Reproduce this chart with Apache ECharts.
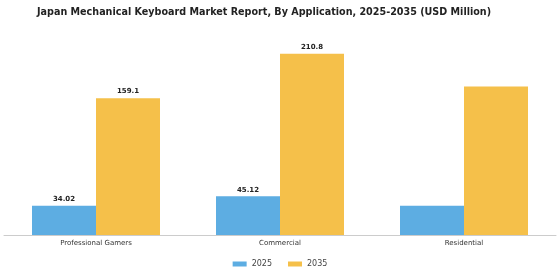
<!DOCTYPE html>
<html><head><meta charset="utf-8">
<script src="https://cdn.jsdelivr.net/npm/echarts@6/dist/echarts.min.js"></script>
<style>html,body{margin:0;padding:0;background:#fff}#c{width:560px;height:280px}</style>
</head><body><div id="c"></div>
<script>
const categories = ['Professional Gamers', 'Commercial', 'Residential'];
const values2025 = [34.02, 45.12, 34.1];
const values2035 = [159.1, 210.8, 172.6];
const labels2025 = ['34.02', '45.12', ''];
const labels2035 = ['159.1', '210.8', ''];
const chart = echarts.init(document.getElementById('c'));
const font = 'DejaVu Sans';
chart.setOption({
  animation: false,
  title: {
    text: 'Japan Mechanical Keyboard Market Report, By Application, 2025-2035 (USD Million)',
    left: 32, top: 2,
    textStyle: { fontFamily: font, fontSize: 9.6, fontWeight: 'bold', color: '#222' }
  },
  legend: {
    bottom: 7, left: 'center', itemWidth: 14, itemHeight: 5, itemGap: 16,
    icon: 'rect',
    textStyle: { fontFamily: font, fontSize: 8, color: '#444' },
    data: ['2025', '2035']
  },
  grid: { left: 4, right: 4, top: 20, bottom: 45, containLabel: false },
  xAxis: {
    type: 'category', data: categories,
    axisLine: { lineStyle: { color: '#ccc' } },
    axisTick: { show: false },
    axisLabel: { fontFamily: font, fontSize: 7, color: '#333', margin: 5 }
  },
  yAxis: { type: 'value', min: 0, max: 250, show: false, splitLine: { show: false } },
  series: [
    {
      name: '2025', type: 'bar', data: values2025, barWidth: 64, barGap: '0%',
      itemStyle: { color: '#5DADE2' },
      label: { show: true, position: 'top', distance: 3, fontFamily: font, fontSize: 7, fontWeight: 'bold', color: '#222',
        formatter: p => labels2025[p.dataIndex] }
    },
    {
      name: '2035', type: 'bar', data: values2035, barWidth: 64,
      itemStyle: { color: '#F5C04A' },
      label: { show: true, position: 'top', distance: 3, fontFamily: font, fontSize: 7, fontWeight: 'bold', color: '#222',
        formatter: p => labels2035[p.dataIndex] }
    }
  ]
});
</script></body></html>
